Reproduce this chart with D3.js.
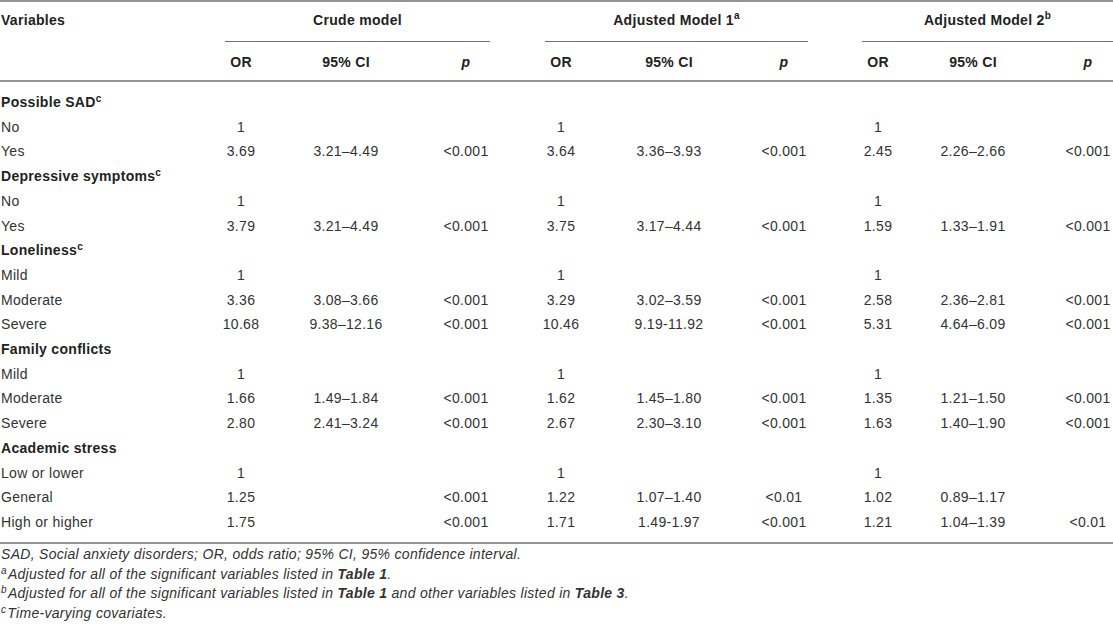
<!doctype html>
<html>
<head>
<meta charset="utf-8">
<title>Odds ratios table</title>
<script src="https://d3js.org/d3.v7.min.js"></script>
<style>
  body { margin: 0; background: #fff; }
  svg { display: block; font-family: "Liberation Sans", Arial, sans-serif; letter-spacing: 0.3px; }
</style>
</head>
<body>
<svg id="tbl" width="1113" height="626"></svg>
<script>
var labels = ["Possible SAD", "No", "Yes", "Depressive symptoms", "No", "Yes",
  "Loneliness", "Mild", "Moderate", "Severe", "Family conflicts", "Mild", "Moderate", "Severe",
  "Academic stress", "Low or lower", "General", "High or higher"];
var isGroup = [1,0,0,1,0,0,1,0,0,0,1,0,0,0,1,0,0,0];
var groupSup = ["c","","","c","","","c","","","","","","","","","","",""];

var crudeOR  = ["","1","3.69","","1","3.79","","1","3.36","10.68","","1","1.66","2.80","","1","1.25","1.75"];
var crudeCI  = ["","","3.21–4.49","","","3.21–4.49","","","3.08–3.66","9.38–12.16","","","1.49–1.84","2.41–3.24","","","",""];
var crudeP   = ["","","<0.001","","","<0.001","","","<0.001","<0.001","","","<0.001","<0.001","","","<0.001","<0.001"];
var adj1OR   = ["","1","3.64","","1","3.75","","1","3.29","10.46","","1","1.62","2.67","","1","1.22","1.71"];
var adj1CI   = ["","","3.36–3.93","","","3.17–4.44","","","3.02–3.59","9.19-11.92","","","1.45–1.80","2.30–3.10","","","1.07–1.40","1.49-1.97"];
var adj1P    = ["","","<0.001","","","<0.001","","","<0.001","<0.001","","","<0.001","<0.001","","","<0.01","<0.001"];
var adj2OR   = ["","1","2.45","","1","1.59","","1","2.58","5.31","","1","1.35","1.63","","1","1.02","1.21"];
var adj2CI   = ["","","2.26–2.66","","","1.33–1.91","","","2.36–2.81","4.64–6.09","","","1.21–1.50","1.40–1.90","","","0.89–1.17","1.04–1.39"];
var adj2P    = ["","","<0.001","","","<0.001","","","<0.001","<0.001","","","<0.001","<0.001","","","","<0.01"];

var models = ["Crude model", "Adjusted Model 1", "Adjusted Model 2"];
var modelSup = ["", "a", "b"];
var subHeads = ["OR", "95% CI", "p"];
var columns = ["c_or","c_ci","c_p","a1_or","a1_ci","a1_p","a2_or","a2_ci","a2_p"];
var columnData = [crudeOR, crudeCI, crudeP, adj1OR, adj1CI, adj1P, adj2OR, adj2CI, adj2P];

var notes = [
  [{t:"SAD, Social anxiety disorders; OR, odds ratio; 95% CI, 95% confidence interval."}],
  [{t:"a", sup:1},{t:"Adjusted for all of the significant variables listed in "},{t:"Table 1", b:1},{t:"."}],
  [{t:"b", sup:1},{t:"Adjusted for all of the significant variables listed in "},{t:"Table 1", b:1},
   {t:" and other variables listed in "},{t:"Table 3", b:1},{t:"."}],
  [{t:"c", sup:1},{t:"Time-varying covariates."}]
];

var svg = d3.select("#tbl");
var ink = "#333", headInk = "#222", rule = "#707070";
var fs = 14;

// column centres
var x = d3.scaleOrdinal().domain(columns)
  .range([241, 346, 466, 561, 669, 784, 878, 973, 1088]);
// group rule spans
var groupX = d3.scaleOrdinal().domain(models).range([[225, 490], [545, 808], [862, 1113]]);
// body rows
var y = d3.scalePoint().domain(d3.range(labels.length)).range([107, 527]);

// horizontal rules
var rules = [1, 81, 543];
svg.selectAll("line.rule").data(rules).enter().append("line")
  .attr("class", "rule")
  .attr("x1", 0).attr("x2", 1113)
  .attr("y1", d => d).attr("y2", d => d)
  .attr("stroke", rule).attr("stroke-width", 1.4);

// header
svg.append("text").attr("x", 1).attr("y", 25)
  .attr("font-size", fs).attr("font-weight", "bold").attr("fill", headInk)
  .text("Variables");

var mh = svg.selectAll("g.model").data(models).enter().append("g").attr("class", "model");
mh.append("line")
  .attr("x1", d => groupX(d)[0]).attr("x2", d => groupX(d)[1])
  .attr("y1", 41.5).attr("y2", 41.5)
  .attr("stroke", rule).attr("stroke-width", 1.2);
var mt = mh.append("text")
  .attr("x", d => (groupX(d)[0] + groupX(d)[1]) / 2)
  .attr("y", 25).attr("text-anchor", "middle")
  .attr("font-size", fs).attr("font-weight", "bold").attr("fill", headInk);
mt.append("tspan").text(d => d);
mt.append("tspan").attr("dy", -6).attr("font-size", 10).text((d, i) => modelSup[i]);

svg.selectAll("text.sub").data(columns).enter().append("text")
  .attr("class", "sub")
  .attr("x", d => x(d)).attr("y", 67)
  .attr("text-anchor", "middle")
  .attr("font-size", fs).attr("font-weight", "bold").attr("fill", headInk)
  .attr("font-style", (d, i) => i % 3 == 2 ? "italic" : null)
  .text((d, i) => subHeads[i % 3]);

// row labels
var lab = svg.selectAll("text.lab").data(labels).enter().append("text")
  .attr("class", "lab")
  .attr("x", 1).attr("y", (d, i) => y(i))
  .attr("font-size", fs)
  .attr("font-weight", (d, i) => isGroup[i] ? "bold" : null)
  .attr("fill", (d, i) => isGroup[i] ? headInk : ink);
lab.append("tspan").text(d => d);
lab.append("tspan").attr("dy", -5).attr("font-size", 10)
  .text((d, i) => groupSup[i]);

// cells
columns.forEach(function(col, ci) {
  svg.selectAll("text.cell-" + col).data(columnData[ci]).enter().append("text")
    .attr("class", "cell-" + col)
    .attr("x", x(col)).attr("y", (d, i) => y(i))
    .attr("text-anchor", "middle")
    .attr("font-size", fs).attr("fill", ink)
    .text(d => d);
});

// footnotes
var ny = d3.scalePoint().domain(d3.range(notes.length)).range([559, 618]);
var nt = svg.selectAll("text.note").data(notes).enter().append("text")
  .attr("class", "note")
  .attr("x", 1).attr("y", (d, i) => ny(i))
  .attr("font-size", 14).attr("font-style", "italic").attr("fill", ink);
nt.each(function(parts) {
  var t = d3.select(this);
  parts.forEach(function(p, k) {
    var s = t.append("tspan").text(p.t);
    if (p.sup) s.attr("font-size", 10).attr("dy", -5);
    else if (k > 0 && parts[k - 1].sup) s.attr("dy", 5).attr("dx", 1);
    if (p.b) s.attr("font-weight", "bold");
  });
});
</script>
</body>
</html>
